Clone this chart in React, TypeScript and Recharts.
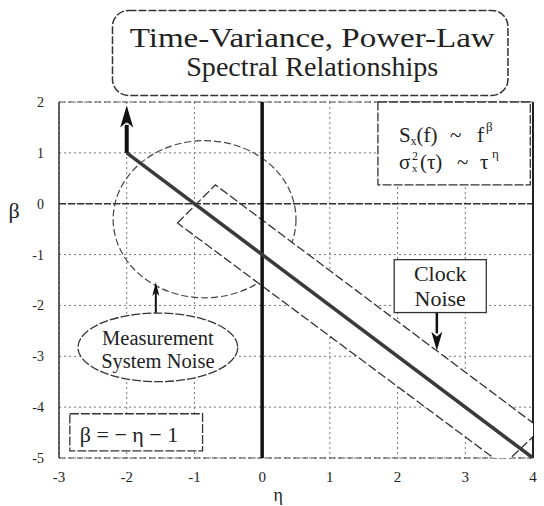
import {
  CartesianGrid,
  ComposedChart,
  Line,
  ReferenceArea,
  ReferenceDot,
  ReferenceLine,
  Scatter,
  XAxis,
  YAxis,
} from 'recharts';

const FONT = '"Liberation Serif", "Times New Roman", serif';

const etaTicks = [-3, -2, -1, 0, 1, 2, 3, 4];
const betaTicks = [2, 1, 0, -1, -2, -3, -4, -5];

// β = −η − 1, from η = −2 up to the right edge
const relationLine = [
  { eta: -2, beta: 1 },
  { eta: 4, beta: -5 },
];

// clock noise band, corners in order
const clockNoiseBand = [
  { eta: -1.25, beta: -0.38 },
  { eta: -0.69, beta: 0.37 },
  { eta: 4.12, beta: -4.43 },
  { eta: 3.56, beta: -5.14 },
];

// measurement system noise region (bounding box of the ellipse)
const measurementEta = [-2.2, 0.5];
const measurementBeta = [-1.85, 1.24];

// arrows: [eta, shaft start, shaft end, tip]
const relationArrow = [-2, 1, 1.55, 1.93];
const clockArrow = [2.58, -2.14, -2.55, -2.89];
const measurementArrow = [-1.57, -2.15, -1.75, -1.54];

// annotation placement in axis units: [eta1, eta2, beta1, beta2]
const titleBox = [-2.21, 3.63, 2.13, 3.8];
const formulaBox = [1.71, 3.96, 0.37, 2];
const clockBox = [1.95, 3.31, -2.14, -1.1];
const measurementBox = [-2.72, -0.36, -3.5, -2.15];
const relationBox = [-2.84, -0.88, -4.86, -4.13];

const ink = '#222';

function ArrowUp(p: any) {
  const { cx, cy } = p;
  const w = p.w ?? 12;
  const h = p.h ?? 20;
  return (
    <path
      d={`M${cx},${cy} L${cx + w / 2},${cy + h} L${cx},${cy + h * 0.75} L${cx - w / 2},${cy + h} Z`}
      fill="#111"
    />
  );
}

function ArrowDown(p: any) {
  const { cx, cy } = p;
  const w = 11;
  const h = 19;
  return (
    <path
      d={`M${cx},${cy} L${cx + w / 2},${cy - h} L${cx},${cy - h * 0.75} L${cx - w / 2},${cy - h} Z`}
      fill="#111"
    />
  );
}

function EllipseShape(p: any) {
  const { x, y, width, height } = p;
  return (
    <ellipse
      cx={x + width / 2}
      cy={y + height / 2}
      rx={width / 2}
      ry={height / 2}
      fill="none"
      stroke="#444"
      strokeWidth={1.2}
      strokeDasharray="7 3"
    />
  );
}

function TitleShape(p: any) {
  const { x, y, width, height } = p;
  const cx = x + width / 2 + 2;
  return (
    <g fontFamily={FONT} fill={ink}>
      <rect x={x} y={y} width={width} height={height} rx={16} ry={16} fill="#fff" stroke="#333" strokeWidth={1.5} strokeDasharray="8 2" />
      <text x={cx} y={y + 37} textAnchor="middle" fontSize={27} textLength={365} lengthAdjust="spacingAndGlyphs">
        Time-Variance, Power-Law
      </text>
      <text x={cx} y={y + 66} textAnchor="middle" fontSize={27} textLength={252} lengthAdjust="spacingAndGlyphs">
        Spectral Relationships
      </text>
    </g>
  );
}

function FormulaShape(p: any) {
  const { x, y, width, height } = p;
  const l1 = y + 40;
  const l2 = y + 67;
  return (
    <g fontFamily={FONT} fill={ink}>
      <rect x={x} y={y} width={width} height={height} fill="#fff" stroke="#333" strokeWidth={1.3} strokeDasharray="9 2" />
      <text x={x + 21} y={l1} fontSize={21}>
        S<tspan fontSize={12} dy={3}>x</tspan>
        <tspan dy={-3}>(f)</tspan>
      </text>
      <text x={x + 72} y={l1} fontSize={21}>~</text>
      <text x={x + 99} y={l1} fontSize={21}>f</text>
      <text x={x + 108} y={l1 - 11} fontSize={13}>β</text>
      <text x={x + 21} y={l2} fontSize={21}>σ</text>
      <text x={x + 34} y={l2 - 9} fontSize={12}>2</text>
      <text x={x + 34} y={l2 + 3} fontSize={11}>x</text>
      <text x={x + 42} y={l2} fontSize={21}>(τ)</text>
      <text x={x + 79} y={l2} fontSize={21}>~</text>
      <text x={x + 102} y={l2} fontSize={21}>τ</text>
      <text x={x + 114} y={l2 - 11} fontSize={13}>η</text>
    </g>
  );
}

function ClockShape(p: any) {
  const { x, y, width, height } = p;
  const cx = x + width / 2;
  return (
    <g fontFamily={FONT} fill={ink}>
      <rect x={x} y={y} width={width} height={height} fill="#fff" stroke="#333" strokeWidth={1.3} />
      <text x={cx} y={y + 21} textAnchor="middle" fontSize={22}>Clock</text>
      <text x={cx} y={y + 46} textAnchor="middle" fontSize={22}>Noise</text>
    </g>
  );
}

function MeasurementShape(p: any) {
  const { x, y, width, height } = p;
  const cx = x + width / 2;
  return (
    <g fontFamily={FONT} fill={ink}>
      <ellipse cx={cx} cy={y + height / 2} rx={width / 2} ry={height / 2} fill="#fff" stroke="#333" strokeWidth={1.3} strokeDasharray="9 2" />
      <text x={cx} y={y + 32} textAnchor="middle" fontSize={20.5}>Measurement</text>
      <text x={cx} y={y + 55} textAnchor="middle" fontSize={20.5}>System Noise</text>
    </g>
  );
}

function RelationShape(p: any) {
  const { x, y, width, height } = p;
  return (
    <g fontFamily={FONT} fill={ink}>
      <rect x={x} y={y} width={width} height={height} fill="#fff" stroke="#333" strokeWidth={1.3} strokeDasharray="9 2" />
      <text x={x + 10} y={y + 28} fontSize={22}>β = − η − 1</text>
    </g>
  );
}

function BandPolygon(p: any) {
  const pts = (p.points || []).map((pt: any) => `${pt.x},${pt.y}`).join(' ');
  return <polygon points={pts} fill="#fff" stroke="#333" strokeWidth={1.3} strokeDasharray="9 3" />;
}

const tickStyle = { fontSize: 15, fill: ink, fontFamily: FONT };

export default function App() {
  return (
    <div style={{ position: 'absolute', left: 0, top: 0, width: 544, height: 506, background: '#fff', fontFamily: FONT }}>
      <ComposedChart width={544} height={506} margin={{ top: 102, right: 11, bottom: 18, left: 19 }}>
        <CartesianGrid stroke="#777" strokeDasharray="2 3" />
        <XAxis
          type="number"
          dataKey="eta"
          domain={[-3, 4]}
          ticks={etaTicks}
          allowDataOverflow
          tickLine={false}
          axisLine={false}
          tickSize={0}
          tickMargin={13}
          height={30}
          tick={tickStyle}
        />
        <YAxis
          type="number"
          dataKey="beta"
          domain={[-5, 2]}
          ticks={betaTicks}
          allowDataOverflow
          tickLine={false}
          axisLine={false}
          tickSize={0}
          tickMargin={15}
          width={40}
          tick={{ ...tickStyle, fontSize: 14 }}
        />

        {/* plot frame */}
        <ReferenceLine x={-3} stroke="#333" strokeWidth={1.5} zIndex={5} />
        <ReferenceLine x={4} stroke="#222" strokeWidth={2} zIndex={5} />
        <ReferenceLine y={2} stroke="#555" strokeDasharray="6 3" zIndex={5} />
        <ReferenceLine y={-5} stroke="#444" strokeDasharray="6 3" zIndex={5} />

        <ReferenceArea
          x1={measurementEta[0]}
          x2={measurementEta[1]}
          y1={measurementBeta[0]}
          y2={measurementBeta[1]}
          ifOverflow="visible"
          shape={EllipseShape}
          zIndex={10}
        />

        <Scatter
          data={clockNoiseBand}
          dataKey="beta"
          isAnimationActive={false}
          shape={() => <g />}
          line={BandPolygon}
          lineType="joint"
          legendType="none"
          zIndex={20}
        />

        <ReferenceLine y={0} stroke="#333" strokeWidth={1.5} strokeDasharray="7 2" zIndex={30} />
        <ReferenceLine x={0} stroke="#111" strokeWidth={3.5} zIndex={30} />

        <Line
          data={relationLine}
          dataKey="beta"
          type="linear"
          stroke="#3a3a3a"
          strokeWidth={3.5}
          dot={false}
          activeDot={false}
          isAnimationActive={false}
        />

        {/* arrows */}
        <ReferenceLine
          segment={[{ x: relationArrow[0], y: relationArrow[1] }, { x: relationArrow[0], y: relationArrow[2] }]}
          stroke="#111"
          strokeWidth={4}
          zIndex={450}
        />
        <ReferenceDot x={relationArrow[0]} y={relationArrow[3]} ifOverflow="visible" shape={(p: any) => <ArrowUp {...p} w={13} h={22} />} zIndex={450} />
        <ReferenceLine
          segment={[{ x: clockArrow[0], y: clockArrow[1] }, { x: clockArrow[0], y: clockArrow[2] }]}
          stroke="#111"
          strokeWidth={2.5}
          zIndex={450}
        />
        <ReferenceDot x={clockArrow[0]} y={clockArrow[3]} ifOverflow="visible" shape={ArrowDown} zIndex={450} />
        <ReferenceLine
          segment={[{ x: measurementArrow[0], y: measurementArrow[1] }, { x: measurementArrow[0], y: measurementArrow[2] }]}
          stroke="#111"
          strokeWidth={2}
          zIndex={450}
        />
        <ReferenceDot x={measurementArrow[0]} y={measurementArrow[3]} ifOverflow="visible" shape={(p: any) => <ArrowUp {...p} w={7} h={14} />} zIndex={450} />

        {/* annotation boxes */}
        <ReferenceArea x1={titleBox[0]} x2={titleBox[1]} y1={titleBox[2]} y2={titleBox[3]} ifOverflow="visible" shape={TitleShape} zIndex={1500} />
        <ReferenceArea x1={formulaBox[0]} x2={formulaBox[1]} y1={formulaBox[2]} y2={formulaBox[3]} ifOverflow="visible" shape={FormulaShape} zIndex={1500} />
        <ReferenceArea x1={clockBox[0]} x2={clockBox[1]} y1={clockBox[2]} y2={clockBox[3]} ifOverflow="visible" shape={ClockShape} zIndex={1500} />
        <ReferenceArea x1={measurementBox[0]} x2={measurementBox[1]} y1={measurementBox[2]} y2={measurementBox[3]} ifOverflow="visible" shape={MeasurementShape} zIndex={1500} />
        <ReferenceArea x1={relationBox[0]} x2={relationBox[1]} y1={relationBox[2]} y2={relationBox[3]} ifOverflow="visible" shape={RelationShape} zIndex={1500} />

        {/* axis titles */}
        <ReferenceDot
          x={-3}
          y={0}
          ifOverflow="visible"
          zIndex={1500}
          shape={(p: any) => (
            <text x={p.cx - 45} y={p.cy + 14} textAnchor="middle" fontSize={22} fontFamily={FONT} fill={ink}>
              β
            </text>
          )}
        />
        <ReferenceDot
          x={0}
          y={-5}
          ifOverflow="visible"
          zIndex={1500}
          shape={(p: any) => (
            <text x={p.cx + 16} y={p.cy + 43} textAnchor="middle" fontSize={18} fontFamily={FONT} fill={ink}>
              η
            </text>
          )}
        />
      </ComposedChart>
    </div>
  );
}
